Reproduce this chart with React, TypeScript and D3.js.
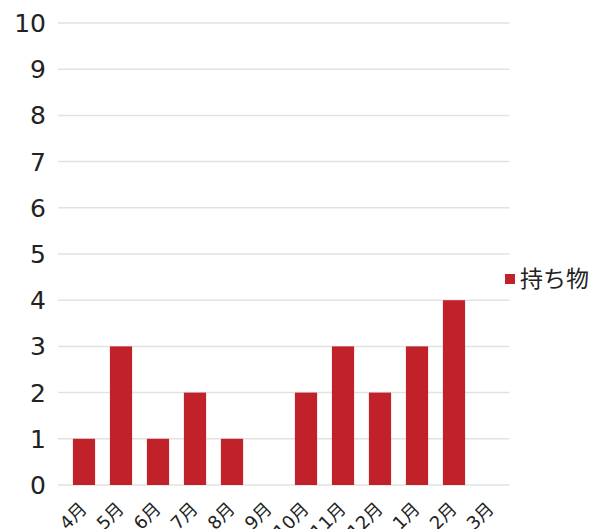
import React from "react";
import * as d3 from "d3";

const months = ["4月", "5月", "6月", "7月", "8月", "9月", "10月", "11月", "12月", "1月", "2月", "3月"];
const values = [1, 3, 1, 2, 1, 0, 2, 3, 2, 3, 4, 0];
const yTicks = [0, 1, 2, 3, 4, 5, 6, 7, 8, 9, 10];
const seriesName = "持ち物";

export default function App() {
  const W = 605, H = 529;
  const left = 65.5, right = 509.5, top = 23, bottom = 485;
  const x = d3.scaleBand<string>().domain(months).range([left, right]).paddingInner(0.4).paddingOuter(0.2);
  const y = d3.scaleLinear().domain([0, 10]).range([bottom, top]);
  const font = "'DejaVu Sans', 'Noto Sans CJK JP', sans-serif";
  return (
    <svg width={W} height={H} style={{ position: "absolute", left: 0, top: 0, background: "#fff" }}>
      {yTicks.map((t) => (
        <g key={t}>
          <line x1={58} x2={right} y1={y(t)} y2={y(t)} stroke="#e2e2e2" strokeWidth={1.5} />
          <text x={46} y={y(t)} dy="0.36em" textAnchor="end" fontSize={25} fill="#222" fontFamily={font}>{t}</text>
        </g>
      ))}
      {months.map((m, i) => (
        <rect key={m} x={x(m)} y={y(values[i])} width={x.bandwidth()} height={y(0) - y(values[i])} fill="#c1222a" />
      ))}
      {months.map((m) => {
        const cx = (x(m) as number) + x.bandwidth() / 2 + 4;
        const cy = 510;
        return (
          <text key={m} x={cx} y={cy} textAnchor="end" fontSize={18} fill="#222" fontFamily={font}
            transform={`rotate(-45 ${cx} ${cy})`}>{m}</text>
        );
      })}
      <rect x={505} y={274} width={10} height={10} fill="#c1222a" />
      <text x={520} y={279} dy="0.36em" fontSize={23} fill="#222" fontFamily={font}>{seriesName}</text>
    </svg>
  );
}
